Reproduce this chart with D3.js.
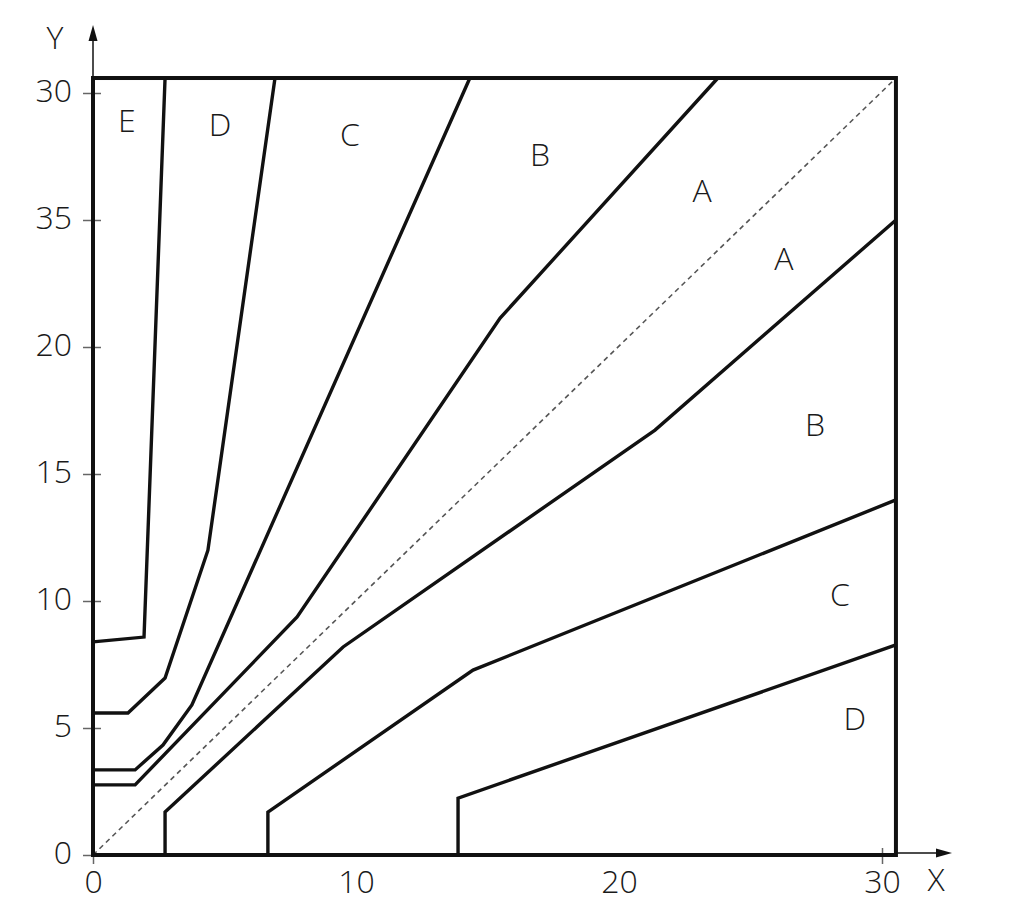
<!DOCTYPE html>
<html>
<head>
<meta charset="utf-8">
<script src="https://cdn.jsdelivr.net/npm/d3@7"></script>
<style>
  html, body { margin: 0; padding: 0; background: #fff; }
  svg { display: block; }
  text { font-family: "Open Sans", "Noto Sans", sans-serif; font-weight: 300; fill: #1a1a1a; }
</style>
</head>
<body>
<svg id="chart" width="1009" height="914"></svg>
<script>
// ---- data ----
const xTicks = [0, 10, 20, 30];
const xTickLabels = ["0", "10", "20", "30"];
const yTicks = [0, 5, 10, 15, 20, 25, 30];
const yTickLabels = ["0", "5", "10", "15", "20", "35", "30"];
const boxMax = [30.53, 30.59];

const lineE = [[0, 8.39], [1.94, 8.58], [2.74, 30.59]];
const lineD = [[0, 5.59], [1.33, 5.59], [2.74, 6.97], [4.37, 12.0], [6.92, 30.59]];
const lineC = [[0, 3.35], [1.60, 3.35], [2.66, 4.33], [3.76, 5.91], [14.33, 30.59]];
const lineB = [[0, 2.76], [1.60, 2.76], [7.76, 9.37], [15.48, 21.14], [23.76, 30.59]];
const lineA2 = [[2.74, 0], [2.74, 1.69], [9.51, 8.19], [21.37, 16.73], [30.53, 25.0]];
const lineB2 = [[6.65, 0], [6.65, 1.69], [14.45, 7.28], [30.53, 13.98]];
const lineC2 = [[13.88, 0], [13.88, 2.24], [30.53, 8.27]];
const contours = [lineE, lineD, lineC, lineB, lineA2, lineB2, lineC2];
const diagonal = [[0, 0], [30.53, 30.59]];

const regionNames = ["E", "D", "C", "B", "A", "A", "B", "C", "D"];
const regionX = [1.29, 4.83, 9.77, 17.0, 23.16, 26.27, 27.45, 28.40, 28.97];
const regionY = [28.90, 28.78, 28.35, 27.56, 26.18, 23.5, 16.93, 10.24, 5.39];

// ---- drawing ----
const svg = d3.select("#chart");
const x = d3.scaleLinear().domain([0, 30]).range([93, 882]);
const y = d3.scaleLinear().domain([0, 30]).range([855, 93]);

// y axis with ticks
const yAxis = d3.axisLeft(y).tickValues(yTicks)
  .tickFormat((d, i) => yTickLabels[i]).tickSize(10).tickPadding(11);
const gy = svg.append("g").attr("transform", `translate(${x(0)},0)`).call(yAxis);
gy.select(".domain").remove();
gy.selectAll(".tick line").attr("x1", -10).attr("x2", 8).attr("stroke", "#666").attr("stroke-width", 1.5);
gy.selectAll(".tick text").style("font-size", "32px").attr("dy", "0.27em")
  .style("font-family", '"Open Sans", "Noto Sans", sans-serif').style("font-weight", 300).attr("fill", "#1a1a1a");

// x axis
const xAxis = d3.axisBottom(x).tickValues(xTicks)
  .tickFormat((d, i) => xTickLabels[i]).tickSize(10).tickPadding(5);
const gx = svg.append("g").attr("transform", `translate(0,${y(0)})`).call(xAxis);
gx.select(".domain").remove();
gx.selectAll(".tick line").attr("y1", -7).attr("y2", 9).attr("stroke", "#666").attr("stroke-width", 1.5)
  .attr("opacity", d => (d === 0 || d === 30) ? 1 : 0);
gx.selectAll(".tick text").style("font-size", "32px")
  .style("font-family", '"Open Sans", "Noto Sans", sans-serif').style("font-weight", 300).attr("fill", "#1a1a1a");

// arrows (axis extensions)
svg.append("line").attr("x1", x(0)).attr("y1", y(boxMax[1])).attr("x2", x(0)).attr("y2", 32)
  .attr("stroke", "#111").attr("stroke-width", 1.5);
svg.append("path").attr("d", `M${x(0)},25 L${x(0) - 4.5},41 L${x(0) + 4.5},41 Z`).attr("fill", "#111");
svg.append("line").attr("x1", x(boxMax[0])).attr("y1", y(0) - 2).attr("x2", 945).attr("y2", y(0) - 2)
  .attr("stroke", "#111").attr("stroke-width", 1.5);
svg.append("path").attr("d", `M952,${y(0) - 2} L936,${y(0) - 6.5} L936,${y(0) + 2.5} Z`).attr("fill", "#111");

// axis names
svg.append("text").attr("x", 55).attr("y", 37).attr("text-anchor", "middle").attr("dy", "0.36em")
  .style("font-size", "32px").text("Y");
svg.append("text").attr("x", 936).attr("y", 879).attr("text-anchor", "middle").attr("dy", "0.36em")
  .style("font-size", "32px").text("X");

// dashed diagonal
const line = d3.line().x(d => x(d[0])).y(d => y(d[1]));
svg.append("path").attr("d", line(diagonal)).attr("fill", "none")
  .attr("stroke", "#555").attr("stroke-width", 1.6).attr("stroke-dasharray", "5,4");

// contour lines
svg.append("g").selectAll("path").data(contours).join("path")
  .attr("d", line).attr("fill", "none").attr("stroke", "#111")
  .attr("stroke-width", 3.4).attr("stroke-linejoin", "miter");

// box
svg.append("rect").attr("x", x(0)).attr("y", y(boxMax[1]))
  .attr("width", x(boxMax[0]) - x(0)).attr("height", y(0) - y(boxMax[1]))
  .attr("fill", "none").attr("stroke", "#111").attr("stroke-width", 4);

// region labels
svg.append("g").selectAll("text").data(regionNames).join("text")
  .attr("x", (d, i) => x(regionX[i])).attr("y", (d, i) => y(regionY[i]))
  .attr("text-anchor", "middle").attr("dy", "0.36em")
  .style("font-size", "32px").text(d => d);
</script>
</body>
</html>
